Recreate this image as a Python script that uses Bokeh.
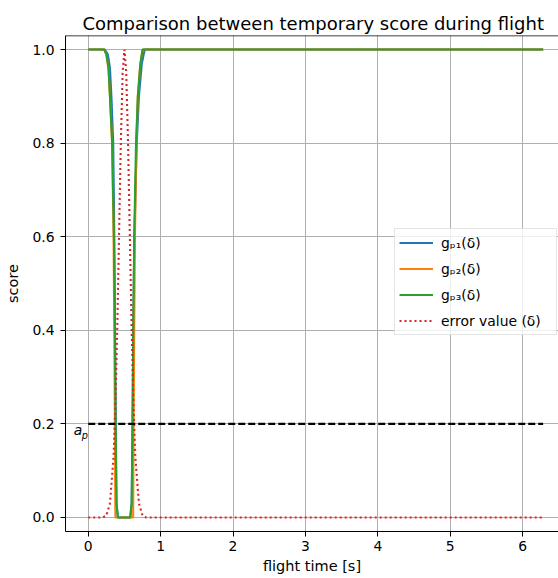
from bokeh.plotting import figure
from bokeh.models import Legend, LegendItem, Label, FixedTicker, Span, Range1d
from bokeh.embed import file_html
from bokeh.resources import INLINE

# ---- data ----
t_gp1 = [0.0, 0.23, 0.27, 0.30, 0.32, 0.345, 0.36, 0.37, 0.38, 0.39, 0.41, 0.58, 0.60, 0.612, 0.622, 0.637, 0.67, 0.70, 0.74, 0.78, 6.283]
gp1 = [1.0, 1.0, 0.99, 0.96, 0.90, 0.80, 0.60, 0.40, 0.20, 0.03, 0.0, 0.0, 0.03, 0.20, 0.40, 0.60, 0.80, 0.90, 0.97, 1.0, 1.0]

t_gp2 = [0.0, 0.22, 0.25, 0.28, 0.30, 0.33, 0.35, 0.36, 0.368, 0.375, 0.62, 0.627, 0.635, 0.645, 0.665, 0.685, 0.72, 0.75, 6.283]
gp2 = [1.0, 1.0, 0.99, 0.96, 0.90, 0.80, 0.60, 0.40, 0.20, 0.0, 0.0, 0.20, 0.40, 0.60, 0.80, 0.90, 0.97, 1.0, 1.0]

t_gp3 = [0.0, 0.22, 0.25, 0.28, 0.30, 0.33, 0.355, 0.368, 0.378, 0.39, 0.41, 0.58, 0.60, 0.612, 0.622, 0.635, 0.66, 0.685, 0.72, 0.75, 6.283]
gp3 = [1.0, 1.0, 0.99, 0.96, 0.90, 0.80, 0.60, 0.40, 0.20, 0.03, 0.0, 0.0, 0.03, 0.20, 0.40, 0.60, 0.80, 0.90, 0.97, 1.0, 1.0]

t_err = [0.0, 0.2, 0.25, 0.3, 0.35, 0.375, 0.4, 0.425, 0.45, 0.475, 0.5, 0.525, 0.55, 0.575, 0.6, 0.625, 0.65, 0.7, 0.75, 0.8, 6.283]
err = [0.0, 0.0, 0.004, 0.03, 0.13, 0.24, 0.40, 0.60, 0.80, 0.95, 1.0, 0.95, 0.80, 0.60, 0.40, 0.24, 0.13, 0.03, 0.004, 0.0, 0.0]

a_p = 0.2
t_span = [0.0, 6.283]

x_ticks = [0, 1, 2, 3, 4, 5, 6]
x_tick_labels = ["0", "1", "2", "3", "4", "5", "6"]
y_ticks = [0.0, 0.2, 0.4, 0.6, 0.8, 1.0]
y_tick_labels = ["0.0", "0.2", "0.4", "0.6", "0.8", "1.0"]

series_labels = ["gₚ₁(δ)", "gₚ₂(δ)", "gₚ₃(δ)", "error value (δ)"]

FONT = "DejaVu Sans"
TICK_FS = "13.9px"
LABEL_FS = "14.5px"

p = figure(frame_width=493, frame_height=496, output_backend="svg", toolbar_location=None,
           x_range=Range1d(-0.314, 6.495), y_range=Range1d(-0.03, 1.03),
           min_border_left=65, min_border_right=0, min_border_top=35, min_border_bottom=47,
           title="Comparison between temporary score during flight")
p.title.text_font = FONT
p.title.text_font_size = "18px"
p.title.text_font_style = "normal"
p.title.text_color = "black"
p.title.align = "left"
p.title.offset = 17
p.title.standoff = 4

p.outline_line_color = None
p.background_fill_color = "white"
p.border_fill_color = "white"

for ax in (p.xaxis[0], p.yaxis[0]):
    ax.axis_line_color = "black"
    ax.axis_line_width = 1
    ax.major_tick_out = 5
    ax.major_tick_in = 0
    ax.major_tick_line_color = "black"
    ax.minor_tick_line_color = None
    ax.major_label_text_font = FONT
    ax.major_label_text_font_size = TICK_FS
    ax.major_label_text_color = "black"
    ax.axis_label_text_font = FONT
    ax.axis_label_text_font_size = LABEL_FS
    ax.axis_label_text_font_style = "normal"
    ax.axis_label_text_color = "black"

p.xaxis.ticker = FixedTicker(ticks=x_ticks)
p.xaxis.major_label_overrides = {k: v for k, v in zip(x_ticks, x_tick_labels)}
p.yaxis.ticker = FixedTicker(ticks=y_ticks)
p.yaxis.major_label_overrides = {k: v for k, v in zip(y_ticks, y_tick_labels)}
p.xaxis.axis_label = "flight time [s]"
p.yaxis.axis_label = "score"
p.xaxis.major_label_standoff = 4
p.yaxis.major_label_standoff = 6
p.xaxis.axis_label_standoff = 4
p.yaxis.axis_label_standoff = 8

p.xgrid.ticker = FixedTicker(ticks=x_ticks)
p.ygrid.ticker = FixedTicker(ticks=y_ticks)
for g in (p.xgrid[0], p.ygrid[0]):
    g.grid_line_color = "#b0b0b0"
    g.grid_line_width = 1

# top spine
p.add_layout(Span(location=1.03, dimension="width", line_color="black", line_width=1.5))

r1 = p.line(t_gp1, gp1, line_color="#1f77b4", line_width=2.1)
r2 = p.line(t_gp2, gp2, line_color="#ff7f0e", line_width=2.1)
r3 = p.line(t_gp3, gp3, line_color="#2ca02c", line_width=2.1)
r4 = p.line(t_err, err, line_color="#d62728", line_width=2.1, line_dash="2 3")
p.line(t_span, [a_p, a_p], line_color="black", line_width=2.1, line_dash="7 3")

p.add_layout(Label(x=-0.2, y=0.17, text="a", text_font=FONT, text_font_size=TICK_FS,
                   text_font_style="italic", text_color="black"))
p.add_layout(Label(x=-0.2, y=0.17, x_offset=8, y_offset=-3, text="p", text_font=FONT,
                   text_font_size="9.7px", text_font_style="italic", text_color="black"))

legend = Legend(items=[LegendItem(label=series_labels[i], renderers=[r]) for i, r in enumerate([r1, r2, r3, r4])],
                location=(329, 196), margin=0, padding=4, spacing=7,
                glyph_width=34, glyph_height=19, label_height=19, label_width=111, label_standoff=8,
                label_text_font=FONT, label_text_font_size=TICK_FS, label_text_color="black",
                border_line_color="#cccccc", border_line_width=1,
                background_fill_color="white", background_fill_alpha=0.8)
p.add_layout(legend)

open("out.html", "w").write(file_html(p, INLINE))
